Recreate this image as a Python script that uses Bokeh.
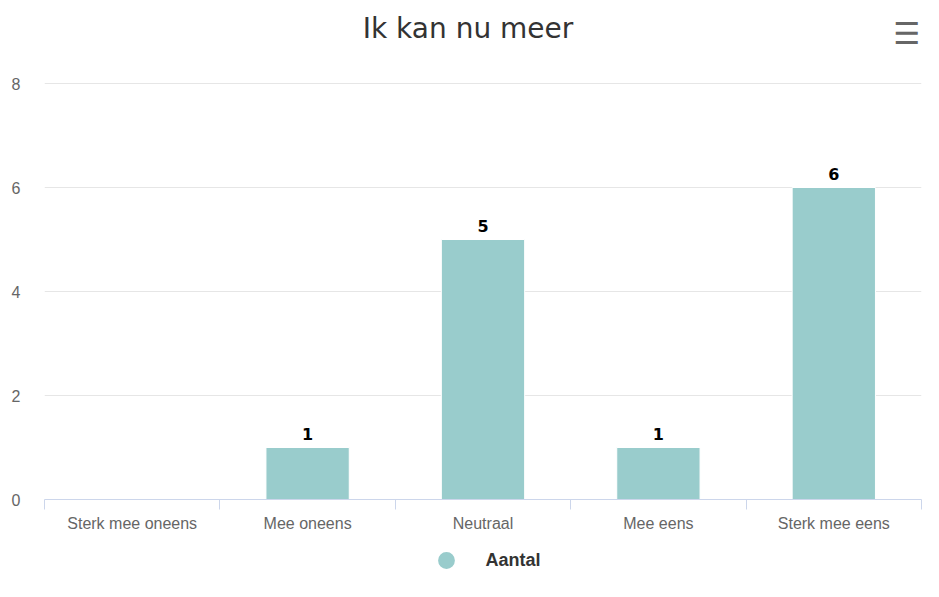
from bokeh.plotting import figure
from bokeh.layouts import column
from bokeh.models import ColumnDataSource, FixedTicker, Legend, LegendItem, Range1d, Label
from bokeh.core.properties import value
from bokeh.embed import file_html
from bokeh.resources import INLINE

categories = ["Sterk mee oneens", "Mee oneens", "Neutraal", "Mee eens", "Sterk mee eens"]
counts = [0, 1, 5, 1, 6]
y_ticks = [0, 2, 4, 6, 8]
title_text = "Ik kan nu meer"
series_name = "Aantal"

BAR_COLOR = "#99cccc"

# layout (pixels)
W = 923
H_MAIN, H_LEG = 539, 42
FRAME_TOP, AXIS_Y, GRID_TOP = 8, 499, 83   # frame top, x-axis line, top gridline

x_pos = [i + 0.5 for i in range(len(categories))]
bar_src = ColumnDataSource(dict(x=x_pos, top=counts, cat=categories))
lab_idx = [i for i, c in enumerate(counts) if c > 0]
lab_src = ColumnDataSource(dict(
    x=[x_pos[i] for i in lab_idx],
    y=[counts[i] for i in lab_idx],
    t=[str(counts[i]) for i in lab_idx],
))

x_end = len(categories)
y_top = y_ticks[-1] * (AXIS_Y - FRAME_TOP) / (AXIS_Y - GRID_TOP)

p = figure(width=W, height=H_MAIN, output_backend="svg", toolbar_location=None,
           title_location=None,
           x_range=Range1d(0, x_end), y_range=Range1d(y_ticks[0], y_top),
           min_border_left=44, min_border_right=2, min_border_top=FRAME_TOP,
           min_border_bottom=H_MAIN - AXIS_Y)
p.outline_line_color = None
p.background_fill_color = "white"

# grid
p.xgrid.visible = False
p.ygrid.grid_line_color = "#e6e6e6"

# y axis
p.yaxis.ticker = FixedTicker(ticks=y_ticks)
p.yaxis.axis_line_color = None
p.yaxis.major_tick_line_color = None
p.yaxis.minor_tick_line_color = None
p.yaxis.major_tick_out = 0
p.yaxis.major_label_standoff = 24
p.yaxis.major_label_text_font = "Liberation Sans"
p.yaxis.major_label_text_font_size = "16px"
p.yaxis.major_label_text_color = "#666666"

# x axis
p.xaxis.ticker = FixedTicker(ticks=x_pos, minor_ticks=list(range(0, x_end + 1)))
p.xaxis.major_label_overrides = {x: c for x, c in zip(x_pos, categories)}
p.xaxis.major_tick_line_color = None
p.xaxis.major_tick_in = 0
p.xaxis.major_tick_out = 0
p.xaxis.minor_tick_in = 0
p.xaxis.minor_tick_out = 10
p.xaxis.minor_tick_line_color = "#ccd6eb"
p.xaxis.axis_line_color = "#ccd6eb"
p.xaxis.major_label_standoff = 5
p.xaxis.major_label_text_font = "Liberation Sans"
p.xaxis.major_label_text_font_size = "16px"
p.xaxis.major_label_text_color = "#666666"

p.vbar(x="x", top="top", width=0.475, source=bar_src,
       fill_color=BAR_COLOR, line_color="white", line_width=1)

p.text(x="x", y="y", text="t", source=lab_src,
       text_font=value("DejaVu Sans"), text_font_style="bold", text_font_size="16px",
       text_color="#000000", text_align="center", text_baseline="bottom", y_offset=-8)

# title and menu icon drawn inside the (tall) frame
title = Label(x=x_end / 2, y=y_top, x_offset=-15, y_offset=-20, text=title_text,
              text_align="center", text_baseline="middle",
              text_font="DejaVu Sans", text_font_size="28px", text_color="#333333")
p.add_layout(title)
menu = Label(x=x_end, y=y_top, x_offset=-1, y_offset=-25, text="\u2630",
             text_align="right", text_baseline="middle",
             text_font="DejaVu Sans", text_font_size="30px", text_font_style="bold",
             text_color="#666666")
p.add_layout(menu)

# legend strip below the chart
pl = figure(width=W, height=H_LEG, output_backend="svg", toolbar_location=None,
            title_location=None, x_range=Range1d(0, 1), y_range=Range1d(0, 1),
            min_border_left=3, min_border_right=0, min_border_top=0, min_border_bottom=0)
pl.axis.visible = False
pl.grid.visible = False
pl.outline_line_color = None
proxy = pl.scatter(x="x", y="top", source=bar_src, size=0, marker="circle",
                   fill_color=BAR_COLOR, line_color=None)
legend = Legend(items=[LegendItem(label=series_name, renderers=[proxy])],
                orientation="horizontal", location="center",
                glyph_width=42, glyph_height=42, label_standoff=19,
                label_text_font="Liberation Sans", label_text_font_style="bold",
                label_text_font_size="18px", label_text_color="#333333",
                padding=0, margin=0, border_line_color=None, background_fill_alpha=0)
pl.add_layout(legend)

layout = column(p, pl, spacing=0)
open("out.html", "w").write(file_html(layout, INLINE))
